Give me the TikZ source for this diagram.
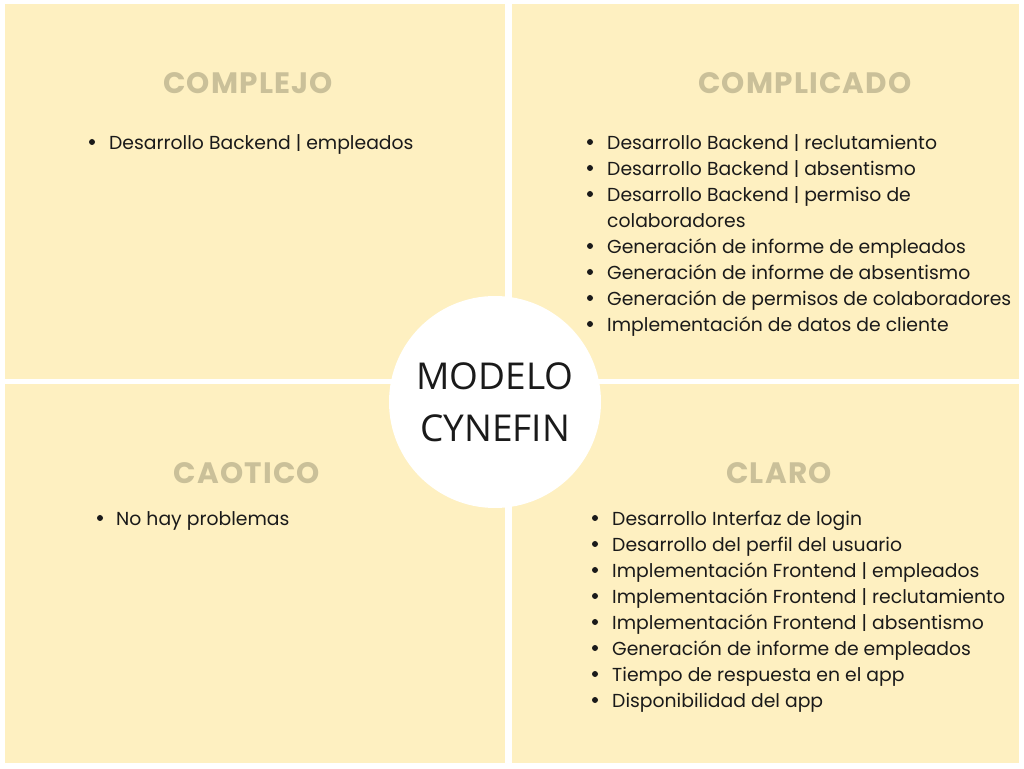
\documentclass[tikz,border=0pt]{standalone}
\usepackage{fontspec}
\setmainfont{Poppins}
\newfontfamily\titlefont{Open Sans}
\newfontfamily\headfont[LetterSpace=4]{Poppins}
\definecolor{quad}{HTML}{FEF0C1}
\definecolor{head}{HTML}{CAC099}
\definecolor{ink}{HTML}{1A1A1A}
\begin{document}
\begin{tikzpicture}[x=1pt,y=1pt,
  quadbox/.style={fill=quad,draw=none},
  heading/.style={font=\headfont\fontsize{29.5}{32}\selectfont\bfseries, text=head, inner sep=0pt},
  item/.style={font=\fontsize{18.8}{22}\selectfont, text=ink, anchor=base west, inner sep=0pt},
  dot/.style={circle, fill=ink, minimum size=6pt, inner sep=0pt}]
\useasboundingbox (0,0) rectangle (1024,768);
\fill[white] (0,0) rectangle (1024,768);
% quadrants
\path[quadbox] (5,768-4) rectangle (505,768-379);
\path[quadbox] (512,768-4) rectangle (1019,768-379);
\path[quadbox] (5,768-384) rectangle (505,768-763);
\path[quadbox] (512,768-384) rectangle (1019,768-763);
% circle
\node[circle, fill=white, minimum size=212pt, inner sep=0pt] (c) at (495,768-402) {};
\node[font=\titlefont\fontsize{37}{52}\selectfont, text=ink, align=center] (ct) at (495,768-402) {MODELO\\CYNEFIN};
% headings
\node[heading] (h1) at (248,768-83) {COMPLEJO};
\node[heading] (h2) at (805,768-83) {COMPLICADO};
\node[heading] (h3) at (247,768-473) {CAOTICO};
\node[heading] (h4) at (779,768-473) {CLARO};
% TL list
\node[dot] (d11) at (92,768-142) {};
\node[item] (t11) at (109,768-149.5) {Desarrollo Backend | empleados};
% TR list
\foreach \y/\t [count=\i] in {142/{Desarrollo Backend | reclutamiento},168/{Desarrollo Backend | absentismo},194/{Desarrollo Backend | permiso de},246/{Generación de informe de empleados},272/{Generación de informe de absentismo},298/{Generación de permisos de colaboradores},324/{Implementación de datos de cliente}}{
  \node[dot] (d2\i) at (590,768-\y) {};
  \node[item] (t2\i) at (607,768-\y-7.5) {\t};
}
\node[item] (t2w) at (607,768-220-7.5) {colaboradores};
% BL list
\node[dot] (d31) at (100,768-518) {};
\node[item] (t31) at (116,768-518-7.5) {No hay problemas};
% BR list
\foreach \y/\t [count=\i] in {518/{Desarrollo Interfaz de login},544/{Desarrollo del perfil del usuario},570/{Implementación Frontend | empleados},596/{Implementación Frontend | reclutamiento},622/{Implementación Frontend | absentismo},648/{Generación de informe de empleados},674/{Tiempo de respuesta en el app},700/{Disponibilidad del app}}{
  \node[dot] (d4\i) at (595,768-\y) {};
  \node[item] (t4\i) at (612,768-\y-7.5) {\t};
}
\end{tikzpicture}
\end{document}
